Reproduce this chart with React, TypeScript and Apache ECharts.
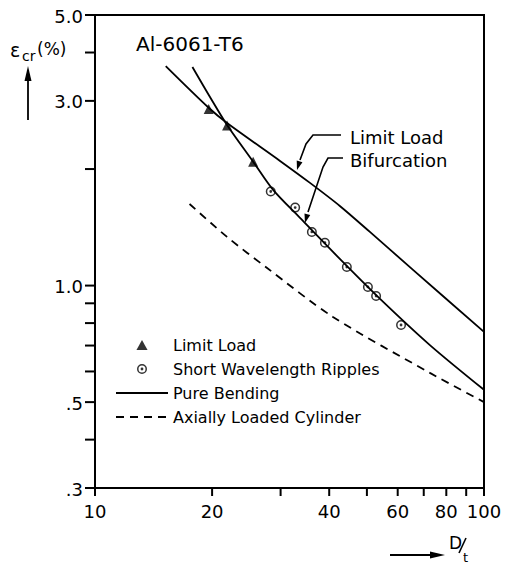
import React, { useEffect, useRef } from "react";
import * as echarts from "echarts";

// ---- data ----
const xTicks = [10, 20, 30, 40, 50, 60, 70, 80, 90, 100];
const xTickLabels = ["10", "20", "", "40", "", "60", "", "80", "", "100"];
const yTicks = [0.3, 0.4, 0.5, 0.6, 0.7, 0.8, 0.9, 1, 2, 3, 4, 5];
const yTickLabels = [".3", "", ".5", "", "", "", "", "1.0", "", "3.0", "", "5.0"];

const limitCurveX = [15.2, 19.6, 21.85, 29.9, 35.7, 42.6, 50.9, 65.7, 100];
const limitCurveY = [3.69, 2.88, 2.63, 2.099, 1.842, 1.606, 1.376, 1.098, 0.759];

const bifCurveX = [17.8, 19.75, 21.85, 25.5, 28.7, 33.65, 42.6, 54.05, 72.6, 100];
const bifCurveY = [3.67, 3.07, 2.6, 2.09, 1.767, 1.496, 1.172, 0.924, 0.702, 0.538];

const axialX = [17.5, 21.85, 27.7, 40.9, 72.6, 100];
const axialY = [1.625, 1.336, 1.11, 0.83, 0.595, 0.5];

const limitPtsX = [19.6, 21.85, 25.5];
const limitPtsY = [2.86, 2.59, 2.09];

const rippleX = [28.3, 32.7, 36.1, 39.0, 44.4, 50.3, 52.8, 61.2];
const rippleY = [1.75, 1.59, 1.376, 1.29, 1.117, 0.992, 0.94, 0.791];

const X_MIN = 10, X_MAX = 100, Y_MIN = 0.3, Y_MAX = 5;

const FONT = "DejaVu Sans";
const TRI = "path://M5,0L10,9L0,9Z";
const RING =
  "path://M0,5A5,5 0 1,1 10,5A5,5 0 1,1 0,5Z M1.5,5A3.5,3.5 0 1,0 8.5,5A3.5,3.5 0 1,0 1.5,5Z M3.6,5A1.4,1.4 0 1,1 6.4,5A1.4,1.4 0 1,1 3.6,5Z";

const zip = (xs: number[], ys: number[]) => xs.map((x, i) => [x, ys[i]]);

function arrowHead(tip: [number, number], from: [number, number], len: number, half: number) {
  const dx = tip[0] - from[0], dy = tip[1] - from[1];
  const l = Math.hypot(dx, dy);
  const ux = dx / l, uy = dy / l;
  const bx = tip[0] - ux * len, by = tip[1] - uy * len;
  const px = -uy * half, py = ux * half;
  return [[tip[0], tip[1]], [bx + px, by + py], [bx - px, by - py]];
}

export default function App() {
  const ref = useRef<HTMLDivElement>(null);
  useEffect(() => {
    if (!ref.current) return;
    const chart = echarts.init(ref.current, null, { renderer: "svg" });
    const black = "#000";
    const option: any = {
      animation: false,
      backgroundColor: "#fff",
      textStyle: { fontFamily: FONT, color: black },
      grid: {
        left: 95, top: 15, width: 389, height: 473,
        show: true, borderColor: black, borderWidth: 2, backgroundColor: "transparent",
      },
      xAxis: {
        type: "log", logBase: 10, min: X_MIN, max: X_MAX,
        axisLine: { show: false }, axisTick: { show: false }, axisLabel: { show: false },
        splitLine: { show: false }, minorTick: { show: false },
      },
      yAxis: {
        type: "log", logBase: 10, min: Y_MIN, max: Y_MAX,
        axisLine: { show: false }, axisTick: { show: false }, axisLabel: { show: false },
        splitLine: { show: false }, minorTick: { show: false },
      },
      legend: {
        orient: "vertical", left: 110, top: 331, itemWidth: 52, itemHeight: 10, itemGap: 6,
        selectedMode: false,
        textStyle: { fontFamily: FONT, fontSize: 16, color: black, lineHeight: 18 },
        data: [
          { name: "Limit Load" },
          { name: "Short Wavelength Ripples" },
          { name: "Pure Bending", itemStyle: { opacity: 0 } },
          { name: "Axially Loaded Cylinder", itemStyle: { opacity: 0 } },
        ],
      },
      series: [
        {
          name: "Pure Bending", type: "line", data: zip(limitCurveX, limitCurveY), smooth: 0.3,
          symbol: "none", lineStyle: { color: black, width: 1.8 }, itemStyle: { color: black }, silent: true,
        },
        {
          name: "Pure Bending", type: "line", data: zip(bifCurveX, bifCurveY), smooth: 0.3,
          symbol: "none", lineStyle: { color: black, width: 1.8 }, itemStyle: { color: black }, silent: true,
        },
        {
          name: "Axially Loaded Cylinder", type: "line", data: zip(axialX, axialY), smooth: 0.3,
          symbol: "none", lineStyle: { color: black, width: 1.8, type: [8, 6] }, itemStyle: { color: black }, silent: true,
        },
        {
          name: "Limit Load", type: "scatter", data: zip(limitPtsX, limitPtsY), symbol: TRI,
          symbolSize: 10, itemStyle: { color: black }, silent: true, z: 5,
        },
        {
          name: "Short Wavelength Ripples", type: "scatter", data: zip(rippleX, rippleY), symbol: RING,
          symbolSize: 10, itemStyle: { color: black }, silent: true, z: 5,
        },
        {
          type: "custom", silent: true, clip: false, z: 10,
          data: xTicks.map((v) => [v, Y_MIN]),
          encode: { x: 0, y: 1 },
          renderItem: (params: any, api: any) => {
            const p = api.coord([api.value(0), api.value(1)]);
            const label = xTickLabels[params.dataIndex];
            const children: any[] = [
              { type: "line", shape: { x1: p[0], y1: p[1], x2: p[0], y2: p[1] + 8 }, style: { stroke: black, lineWidth: 2 } },
            ];
            if (label) {
              children.push({
                type: "text", x: p[0], y: p[1] + 23,
                style: { text: label, fill: black, fontSize: 18, fontFamily: FONT, align: "center", verticalAlign: "middle" },
              });
            }
            return { type: "group", children };
          },
        },
        {
          type: "custom", silent: true, clip: false, z: 10,
          data: yTicks.map((v) => [X_MIN, v]),
          encode: { x: 0, y: 1 },
          renderItem: (params: any, api: any) => {
            const p = api.coord([api.value(0), api.value(1)]);
            const label = yTickLabels[params.dataIndex];
            const children: any[] = [
              { type: "line", shape: { x1: p[0] - 10, y1: p[1], x2: p[0], y2: p[1] }, style: { stroke: black, lineWidth: 2 } },
            ];
            if (label) {
              children.push({
                type: "text", x: p[0] - 12, y: p[1] + 1,
                style: { text: label, fill: black, fontSize: 18, fontFamily: FONT, align: "right", verticalAlign: "middle" },
              });
            }
            return { type: "group", children };
          },
        },
      ],
      graphic: [
        // title
        { type: "text", x: 136, y: 44, style: { text: "Al-6061-T6", fill: black, fontSize: 20, fontFamily: FONT, verticalAlign: "middle" } },
        // y axis label
        { type: "text", x: 10, y: 50, style: { text: "ε", fill: black, fontSize: 19, fontFamily: FONT, verticalAlign: "middle" } },
        { type: "text", x: 22, y: 56, style: { text: "cr", fill: black, fontSize: 14, fontFamily: FONT, verticalAlign: "middle" } },
        { type: "text", x: 37, y: 49, style: { text: "(%)", fill: black, fontSize: 17, fontFamily: FONT, verticalAlign: "middle" } },
        { type: "line", shape: { x1: 28, y1: 120, x2: 28, y2: 78 }, style: { stroke: black, lineWidth: 1.8 } },
        { type: "polygon", shape: { points: [[28, 66], [24.5, 81], [31.5, 81]] }, style: { fill: black } },
        // x axis label
        { type: "line", shape: { x1: 390, y1: 555, x2: 432, y2: 555 }, style: { stroke: black, lineWidth: 1.8 } },
        { type: "polygon", shape: { points: [[445, 555], [430, 551.5], [430, 558.5]] }, style: { fill: black } },
        { type: "text", x: 449, y: 543, style: { text: "D", fill: black, fontSize: 17, fontFamily: FONT, verticalAlign: "middle" } },
        { type: "line", shape: { x1: 459, y1: 553, x2: 466, y2: 538 }, style: { stroke: black, lineWidth: 1.6 } },
        { type: "text", x: 463, y: 557, style: { text: "t", fill: black, fontSize: 13, fontFamily: FONT, verticalAlign: "middle" } },
        // annotations
        { type: "text", x: 350, y: 137, style: { text: "Limit Load", fill: black, fontSize: 18, fontFamily: FONT, verticalAlign: "middle" } },
        { type: "text", x: 350, y: 160, style: { text: "Bifurcation", fill: black, fontSize: 18, fontFamily: FONT, verticalAlign: "middle" } },
        { type: "polyline", shape: { points: [[341, 135], [313, 135], [306, 144], [300, 160]] }, style: { stroke: black, lineWidth: 1.6, fill: null } },
        { type: "polygon", shape: { points: arrowHead([297, 170], [300, 160], 9, 3) }, style: { fill: black } },
        { type: "polyline", shape: { points: [[343, 158], [328, 158], [323, 167], [308, 212]] }, style: { stroke: black, lineWidth: 1.6, fill: null } },
        { type: "polygon", shape: { points: arrowHead([305, 223], [308, 212], 9, 3) }, style: { fill: black } },
      ],
    };
    chart.setOption(option);
    return () => chart.dispose();
  }, []);
  return (
    <div
      ref={ref}
      style={{ position: "absolute", left: 0, top: 0, width: 505, height: 566, background: "#fff" }}
    />
  );
}
